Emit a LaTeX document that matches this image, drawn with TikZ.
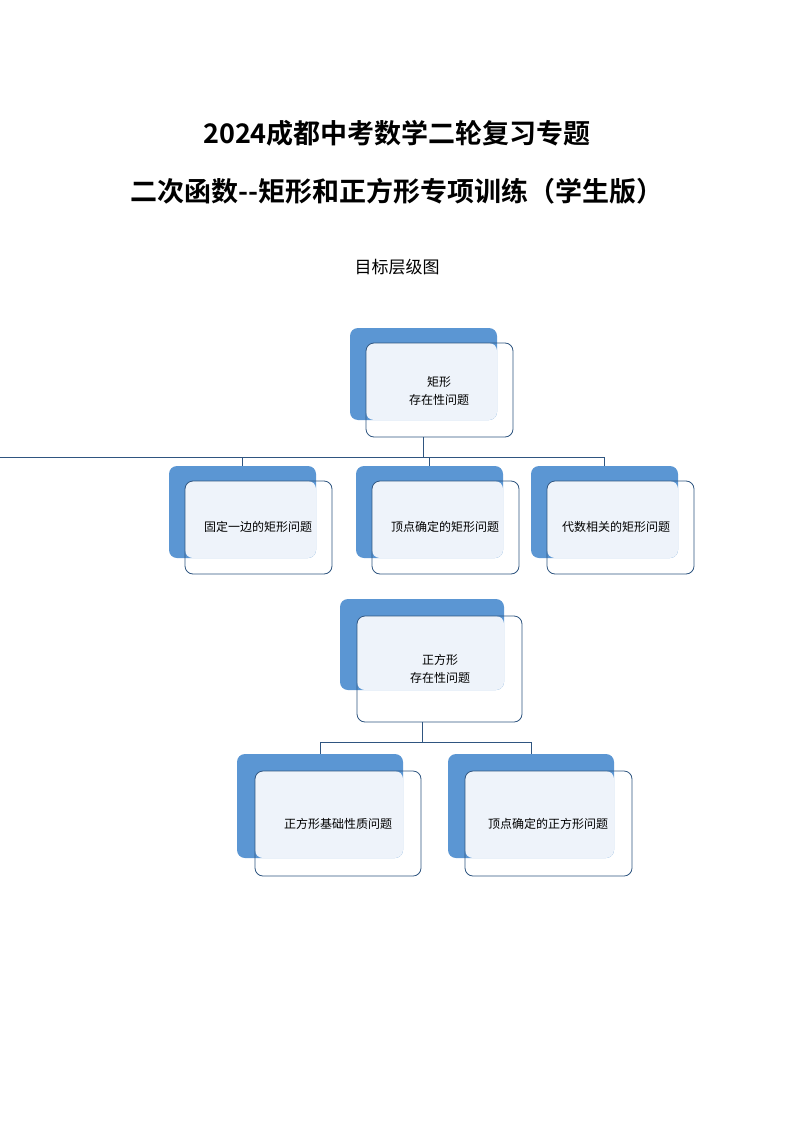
\documentclass[tikz,border=0pt]{standalone}
\usepackage{fontspec}
\setmainfont{Noto Sans CJK SC}
\newfontfamily\cjkb{Noto Sans CJK SC Bold}
\definecolor{bk}{HTML}{5B96D3}
\definecolor{lt}{HTML}{EEF3FA}
\definecolor{ln}{HTML}{2F5580}
\begin{document}
\begin{tikzpicture}[x=1pt,y=-1pt,
  conn/.style={draw=ln,line width=0.8pt},
  lbl/.style={font=\fontsize{12}{18}\selectfont,align=center}]
\useasboundingbox[fill=white] (0,0) rectangle (794,1123);
\node[font=\cjkb\fontsize{27}{30}\selectfont] (t1) at (397,133) {2024成都中考数学二轮复习专题};
\node[font=\cjkb\fontsize{27}{30}\selectfont] (t2) at (397,191) {二次函数--矩形和正方形专项训练（学生版）};
\node[font=\fontsize{17}{20}\selectfont] (t3) at (397,267) {目标层级图};
% box macro
\newcommand\mybox[9]{% name, bx0,by0,bx1,by1, fx0,fy0,fx1,fy1
  \fill[bk,rounded corners=8pt] (#2,#3) rectangle (#4,#5);
  \fill[lt,rounded corners=8pt] (#6,#7) rectangle (#4,#5);
  \draw[ln,line width=0.8pt,rounded corners=8pt,fill=white,fill opacity=0] (#6,#7) rectangle (#8,#9);
  \coordinate (#1t) at ({(#2+#4)/2},#3);
  \coordinate (#1b) at ({(#2+#4)/2},#9);
  \coordinate (#1c) at ({(#6+#8)/2},{(#7+#9)/2});
}
\mybox{a}{350}{328}{497}{420}{366}{343}{513}{437}
\mybox{b}{169}{466}{316}{558}{185}{481}{332}{574}
\mybox{c}{356}{466}{503}{558}{372}{481}{519}{574}
\mybox{d}{531}{466}{678}{558}{547}{481}{694}{574}
\mybox{e}{340}{599}{504}{690}{357}{616}{522}{722}
\mybox{f}{237}{754}{403}{858}{255}{771}{421}{876}
\mybox{g}{448}{754}{614}{858}{465}{771}{632}{876}
\node[lbl] (na) at (439,391) {矩形\\存在性问题};
\node[lbl] (nb) at (258,527) {固定一边的矩形问题};
\node[lbl] (nc) at (445,527) {顶点确定的矩形问题};
\node[lbl] (nd) at (616,527) {代数相关的矩形问题};
\node[lbl] (ne) at (440,669) {正方形\\存在性问题};
\node[lbl] (nf) at (338,824) {正方形基础性质问题};
\node[lbl] (ng) at (548,824) {顶点确定的正方形问题};
\draw[conn] (ab) |- (457-457,457) coordinate (h1);
\draw[conn] (ab) -- ++(0,20) -| (bt);
\draw[conn] (ab) -- ++(0,20) -| (ct);
\draw[conn] (ab) -- ++(0,20) -| (dt);
\draw[conn] (eb) -- ++(0,20) -| (ft);
\draw[conn] (eb) -- ++(0,20) -| (gt);
\end{tikzpicture}
\end{document}
